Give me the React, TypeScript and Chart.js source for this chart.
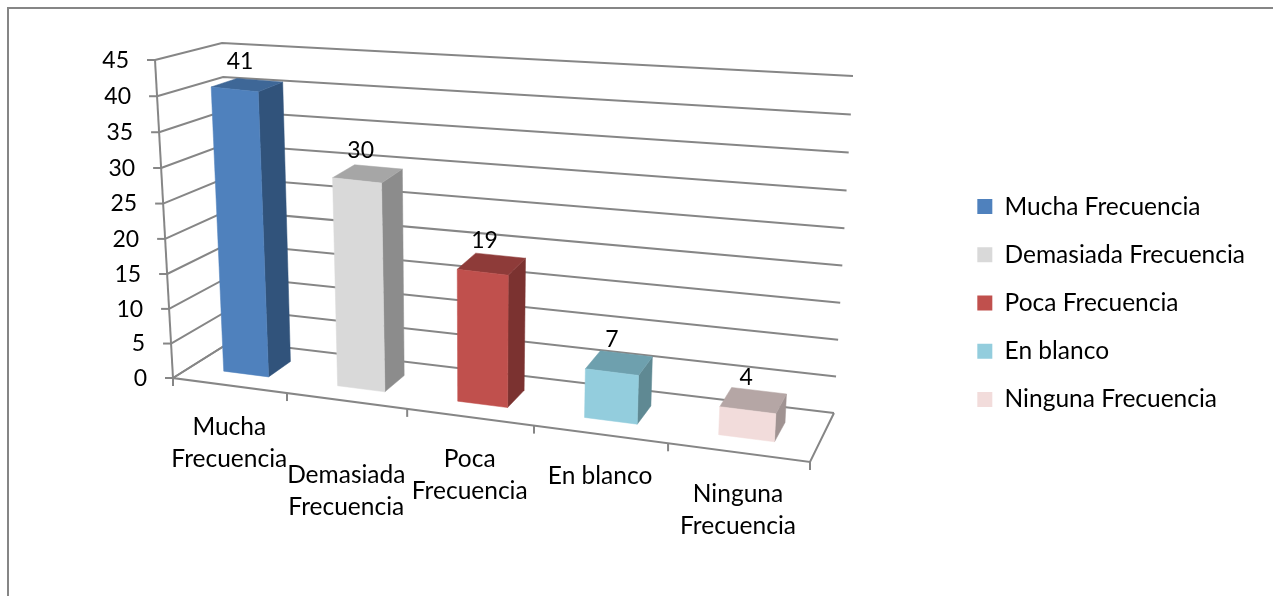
import React, { useEffect, useRef } from "react";
import { Chart, registerables } from "chart.js";

Chart.register(...registerables);

const categories = [
  ["Mucha", "Frecuencia"],
  ["Demasiada", "Frecuencia"],
  ["Poca", "Frecuencia"],
  ["En blanco"],
  ["Ninguna", "Frecuencia"],
];
const values = [41, 30, 19, 7, 4];
const frontColors = ["#4F81BD", "#D9D9D9", "#C0504D", "#93CDDD", "#F2DCDB"];
const topColors = ["#3E6797", "#A6A6A6", "#8E3B39", "#6EA0AE", "#B5A6A5"];
const sideColors = ["#31537B", "#8C8C8C", "#7B3230", "#5F8993", "#A09392"];

const FONT = "Lato";
const WORD_SIZE = 24.5;
const NUMBER_SIZE = 23;
const LINE = "#868686";

type Pt = [number, number];

// Corners of the 3D box the chart stands in: front wall and back wall.
const FRONT_BOTTOM_LEFT: Pt = [173, 378];
const FRONT_BOTTOM_RIGHT: Pt = [810, 462];
const FRONT_TOP_LEFT: Pt = [155, 60];
const FRONT_TOP_RIGHT: Pt = [828, 142];
const BACK_BOTTOM_LEFT: Pt = [232, 341];
const BACK_BOTTOM_RIGHT: Pt = [834, 413];
const BACK_TOP_LEFT: Pt = [222, 43];
const BACK_TOP_RIGHT: Pt = [853, 76];

// Foreshortening along the category and value axes.
const PERSPECTIVE_U = 0.872;
const PERSPECTIVE_V = 0.972;
// Bars occupy the middle of the floor's depth.
const BAR_DEPTH_START = 0.3;
const BAR_DEPTH_END = 0.7;
const STAGGERED_LABEL = 1;

const mix = (a: Pt, b: Pt, t: number): Pt => [a[0] + (b[0] - a[0]) * t, a[1] + (b[1] - a[1]) * t];
const foreshorten = (t: number, k: number) => (k * t) / (1 + (k - 1) * t);

function project(u: number, v: number, d: number): Pt {
  const fu = foreshorten(u, PERSPECTIVE_U);
  const fv = foreshorten(v, PERSPECTIVE_V);
  const front = mix(mix(FRONT_BOTTOM_LEFT, FRONT_BOTTOM_RIGHT, fu), mix(FRONT_TOP_LEFT, FRONT_TOP_RIGHT, fu), fv);
  const back = mix(mix(BACK_BOTTOM_LEFT, BACK_BOTTOM_RIGHT, fu), mix(BACK_TOP_LEFT, BACK_TOP_RIGHT, fu), fv);
  return mix(front, back, d);
}

function polyline(ctx: CanvasRenderingContext2D, pts: Pt[], close = false) {
  ctx.beginPath();
  pts.forEach((p, i) => (i ? ctx.lineTo(p[0], p[1]) : ctx.moveTo(p[0], p[1])));
  if (close) ctx.closePath();
}

function fillFace(ctx: CanvasRenderingContext2D, pts: Pt[], color: string) {
  polyline(ctx, pts, true);
  ctx.fillStyle = color;
  ctx.fill();
  ctx.strokeStyle = color;
  ctx.lineWidth = 0.5;
  ctx.stroke();
}

// Draws frame, walls, floor, prisms and axis text from the chart's own scales.
const prismPlugin = {
  id: "prism",
  beforeDatasetsDraw(chart: any) {
    const ctx: CanvasRenderingContext2D = chart.ctx;
    const xs = chart.scales.x;
    const ys = chart.scales.y;
    const nu = (px: number) => (px - xs.left) / xs.width;
    const nv = (py: number) => (ys.bottom - py) / ys.height;
    const n = categories.length;

    ctx.save();
    ctx.lineCap = "butt";
    ctx.strokeStyle = LINE;
    ctx.lineWidth = 2;
    polyline(ctx, [[8, 596], [8, 8], [1273, 8]]);
    ctx.stroke();

    ctx.lineWidth = 2;
    ctx.strokeStyle = LINE;
    // Value gridlines run along the left wall and the back wall.
    ys.ticks.forEach((t: any) => {
      const v = nv(ys.getPixelForValue(t.value));
      polyline(ctx, [project(0, v, 0), project(0, v, 1), project(1, v, 1)]);
      ctx.stroke();
      const p = project(0, v, 0);
      polyline(ctx, [[p[0] - 8, p[1]], p]);
      ctx.stroke();
    });
    polyline(ctx, [project(0, 0, 0), project(0, 1, 0)]);
    ctx.stroke();
    // Floor outline.
    polyline(ctx, [project(0, 0, 1), project(0, 0, 0), project(1, 0, 0), project(1, 0, 1)]);
    ctx.stroke();
    // Category ticks under the front edge.
    for (let i = 0; i <= n; i++) {
      const p = project(i / n, 0, 0);
      polyline(ctx, [p, [p[0], p[1] + 8]]);
      ctx.stroke();
    }

    // Bars, using the geometry Chart.js computed for each element.
    const meta = chart.getDatasetMeta(0);
    meta.data.forEach((bar: any, i: number) => {
      const { x, y, width } = bar.getProps(["x", "y", "width"]);
      const u0 = nu(x - width / 2);
      const u1 = nu(x + width / 2);
      const v = nv(y);
      const d0 = BAR_DEPTH_START;
      const d1 = BAR_DEPTH_END;
      fillFace(ctx, [project(u1, v, d0), project(u1, v, d1), project(u1, 0, d1), project(u1, 0, d0)], sideColors[i]);
      fillFace(ctx, [project(u0, v, d0), project(u1, v, d0), project(u1, v, d1), project(u0, v, d1)], topColors[i]);
      fillFace(ctx, [project(u0, v, d0), project(u1, v, d0), project(u1, 0, d0), project(u0, 0, d0)], frontColors[i]);
    });

    // Axis and value text.
    ctx.fillStyle = "#000";
    ctx.font = `${NUMBER_SIZE}px ${FONT}`;
    ctx.textBaseline = "middle";
    ctx.textAlign = "right";
    ys.ticks.forEach((t: any) => {
      const p = project(0, nv(ys.getPixelForValue(t.value)), 0);
      ctx.fillText(String(t.value), p[0] - 26, p[1] + 0.5);
    });
    ctx.textAlign = "center";
    meta.data.forEach((bar: any, i: number) => {
      const { x, y } = bar.getProps(["x", "y"]);
      const p = project(nu(x), nv(y), 0.5);
      ctx.font = `${NUMBER_SIZE}px ${FONT}`;
      ctx.fillText(String(values[i]), p[0] - 7, p[1] - 23);

      const foot = project(nu(x), 0, 0);
      const drop = i === STAGGERED_LABEL ? 32 : 0;
      ctx.font = `${WORD_SIZE}px ${FONT}`;
      categories[i].forEach((line, k) => {
        ctx.fillText(line, foot[0], foot[1] + 42 + drop + k * 32);
      });
    });
    ctx.restore();
    return false;
  },
};

export default function App() {
  const ref = useRef<HTMLCanvasElement>(null);
  useEffect(() => {
    const chart = new Chart(ref.current!, {
      type: "bar",
      data: {
        labels: categories.map((c) => c.join(" ")),
        datasets: [
          {
            data: values,
            backgroundColor: frontColors,
            categoryPercentage: 1,
            barPercentage: 0.4,
          },
        ],
      },
      options: {
        animation: false,
        responsive: false,
        layout: { padding: { top: 10, right: 18 } },
        scales: {
          x: { display: false },
          y: { display: false, min: 0, max: 45, ticks: { stepSize: 5 } },
        },
        plugins: {
          title: { display: false },
          tooltip: { enabled: false },
          legend: {
            position: "right",
            labels: {
              boxWidth: 15,
              boxHeight: 15,
              padding: 23.7,
              color: "#000",
              font: { family: FONT, size: WORD_SIZE },
              generateLabels: () =>
                categories.map((c, i) => ({
                  text: c.join(" "),
                  fillStyle: frontColors[i],
                  strokeStyle: frontColors[i],
                  lineWidth: 0,
                  hidden: false,
                  index: i,
                })),
            },
          },
        },
      },
      plugins: [prismPlugin],
    } as any);
    return () => chart.destroy();
  }, []);
  return (
    <div style={{ position: "fixed", left: 0, top: 0, width: 1273, height: 596, background: "#fff" }}>
      <canvas ref={ref} width={1273} height={596} style={{ display: "block" }} />
    </div>
  );
}
